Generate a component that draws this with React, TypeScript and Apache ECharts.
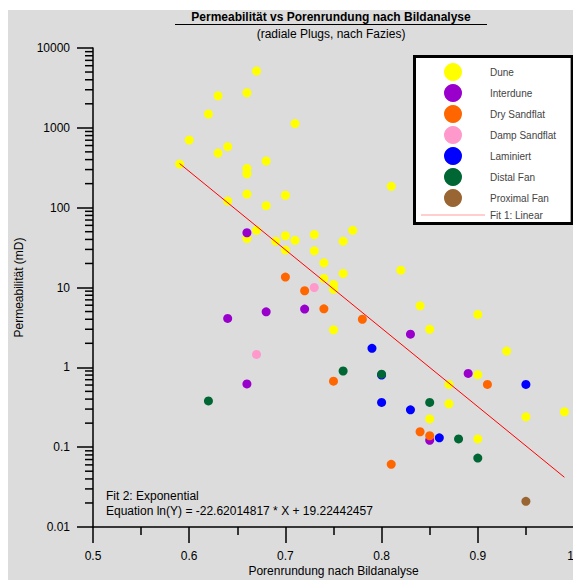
import React, { useEffect, useRef } from "react";
import * as echarts from "echarts";

const FONT = "'Liberation Sans', Arial, sans-serif";

const seriesNames = ["Dune", "Interdune", "Dry Sandflat", "Damp Sandflat", "Laminiert", "Distal Fan", "Proximal Fan"];
const seriesColors = ["#ffff00", "#9900cc", "#ff6600", "#ff99cc", "#0000ff", "#006633", "#996633"];

const dune = [
  [0.59, 352], [0.6, 703], [0.62, 1490], [0.63, 2520], [0.63, 483], [0.64, 580], [0.66, 2750], [0.67, 5150],
  [0.66, 310], [0.66, 266], [0.66, 148], [0.64, 121], [0.67, 52], [0.66, 41], [0.71, 1130], [0.68, 384],
  [0.7, 143], [0.68, 106], [0.81, 185], [0.7, 44.5], [0.71, 39], [0.73, 46], [0.76, 38], [0.77, 52],
  [0.69, 38], [0.7, 29.4], [0.73, 28.8], [0.74, 20.4], [0.76, 15], [0.74, 13], [0.75, 10.9], [0.75, 9.5],
  [0.75, 2.95], [0.82, 16.5], [0.84, 5.9], [0.85, 3.0], [0.9, 4.6], [0.93, 1.6], [0.9, 0.81], [0.87, 0.61],
  [0.87, 0.35], [0.85, 0.226], [0.95, 0.24], [0.99, 0.277], [0.9, 0.127],
];
const interdune = [[0.66, 48.5], [0.64, 4.1], [0.68, 4.96], [0.72, 5.36], [0.66, 0.62], [0.83, 2.6], [0.89, 0.84], [0.85, 0.122]];
const drySandflat = [[0.7, 13.5], [0.72, 9.1], [0.74, 5.4], [0.75, 0.67], [0.78, 4.0], [0.91, 0.61], [0.84, 0.156], [0.85, 0.139], [0.81, 0.061]];
const dampSandflat = [[0.73, 10], [0.67, 1.45]];
const laminiert = [[0.79, 1.73], [0.8, 0.8], [0.8, 0.363], [0.83, 0.294], [0.95, 0.61], [0.86, 0.131]];
const distalFan = [[0.62, 0.38], [0.76, 0.9], [0.8, 0.82], [0.85, 0.363], [0.88, 0.127], [0.9, 0.073]];
const proximalFan = [[0.95, 0.021]];
const allSeriesData = [dune, interdune, drySandflat, dampSandflat, laminiert, distalFan, proximalFan];

const fitName = "Fit 1: Linear";
const fitLine = [[0.59, 357], [0.99, 0.042]];

const yTickLabels = ["0.01", "0.1", "1", "10", "100", "1000", "10000"];
const yMinorTicks = [
  0.02, 0.03, 0.04, 0.05, 0.06, 0.07, 0.08, 0.09,
  0.2, 0.3, 0.4, 0.5, 0.6, 0.7, 0.8, 0.9,
  2, 3, 4, 5, 6, 7, 8, 9,
  20, 30, 40, 50, 60, 70, 80, 90,
  200, 300, 400, 500, 600, 700, 800, 900,
  2000, 3000, 4000, 5000, 6000, 7000, 8000, 9000,
];

const titleText = "Permeabilität vs Porenrundung nach Bildanalyse";
const subTitleText = "(radiale Plugs, nach Fazies)";
const xName = "Porenrundung nach Bildanalyse";
const yName = "Permeabilität (mD)";
const fitText1 = "Fit 2: Exponential";
const fitText2 = "Equation ln(Y) = -22.62014817 * X + 19.22442457";

export default function App() {
  const ref = useRef<HTMLDivElement>(null);
  useEffect(() => {
    if (!ref.current) return;
    const chart = echarts.init(ref.current, null, { renderer: "svg" });
    const scatterSeries = seriesNames.map((name, i) => ({
      name,
      type: "scatter",
      data: allSeriesData[i],
      symbol: "circle",
      symbolSize: 9,
      itemStyle: { color: seriesColors[i], opacity: 1 },
    }));
    chart.setOption({
      animation: false,
      backgroundColor: "#dcdcdc",
      textStyle: { fontFamily: FONT },
      grid: { left: 85, right: -1, top: 38, bottom: 53, containLabel: false, outerBoundsMode: "none" },
      xAxis: {
        type: "value",
        min: 0.5,
        max: 1.0,
        interval: 0.1,
        name: xName,
        nameLocation: "middle",
        nameGap: 38,
        nameMoveOverlap: false,
        nameTextStyle: { fontSize: 12, color: "#000", fontFamily: FONT },
        axisLine: { show: true, onZero: false, lineStyle: { color: "#000", width: 1.5 } },
        axisTick: { show: true, inside: false, length: 16, lineStyle: { color: "#000", width: 1.5 } },
        minorTick: { show: true, splitNumber: 2, length: 8, lineStyle: { color: "#000", width: 1.5 } },
        axisLabel: {
          fontSize: 12,
          color: "#000",
          margin: 23,
          fontFamily: FONT,
          alignMaxLabel: "right",
          formatter: (v: number) => String(Math.round(v * 10) / 10),
        },
        splitLine: { show: false },
      },
      yAxis: {
        type: "log",
        logBase: 10,
        min: 0.01,
        max: 10000,
        name: yName,
        nameLocation: "middle",
        nameGap: 68,
        nameMoveOverlap: false,
        nameTextStyle: { fontSize: 12, color: "#000", fontFamily: FONT },
        axisLine: { show: true, onZero: false, lineStyle: { color: "#000", width: 1.5 } },
        axisTick: { show: true, inside: false, length: 16, lineStyle: { color: "#000", width: 1.5 } },
        axisLabel: {
          fontSize: 12,
          color: "#000",
          margin: 23,
          fontFamily: FONT,
          formatter: (v: number) => yTickLabels[Math.round(Math.log10(v)) + 2] ?? String(v),
        },
        splitLine: { show: false },
      },
      legend: {
        orient: "vertical",
        left: 406.5,
        top: 46.5,
        padding: [6.5, 16, 3.5, 6.5],
        itemWidth: 64,
        itemHeight: 18,
        itemGap: 3,
        backgroundColor: "#ffffff",
        borderColor: "#000000",
        borderWidth: 3,
        textStyle: { fontSize: 10, color: "#444", fontFamily: FONT },
        data: [
          ...seriesNames.map((n) => ({ name: n, icon: "circle" })),
          { name: fitName, icon: "path://M0,0 H64 V1 H0 Z", itemStyle: { color: "#ffa0a0" } },
        ],
      },
      graphic: [
        { type: "text", x: 323, y: 7, style: { text: titleText, font: `bold 12px ${FONT}`, fill: "#000", textAlign: "center", textVerticalAlign: "middle" } },
        { type: "line", shape: { x1: 167, y1: 14.5, x2: 479, y2: 14.5 }, style: { stroke: "#000", lineWidth: 1 } },
        { type: "text", x: 323, y: 24, style: { text: subTitleText, font: `12px ${FONT}`, fill: "#000", textAlign: "center", textVerticalAlign: "middle" } },
        { type: "text", x: 98, y: 486, style: { text: fitText1, font: `12px ${FONT}`, fill: "#000", textAlign: "left", textVerticalAlign: "middle" } },
        { type: "text", x: 98, y: 501, style: { text: fitText2, font: `12px ${FONT}`, fill: "#000", textAlign: "left", textVerticalAlign: "middle" } },
      ],
      series: [
        {
          name: "minorTicksY",
          type: "custom",
          clip: false,
          silent: true,
          data: yMinorTicks.map((v) => [0.5, v]),
          renderItem: (params: any, api: any) => {
            const p = api.coord([api.value(0), api.value(1)]);
            return {
              type: "line",
              shape: { x1: p[0] - 8, y1: p[1], x2: p[0], y2: p[1] },
              style: { stroke: "#000", lineWidth: 1.5 },
            };
          },
        },
        ...scatterSeries,
        {
          name: fitName,
          type: "line",
          data: fitLine,
          symbol: "none",
          showSymbol: false,
          lineStyle: { color: "#ff0000", width: 1 },
          z: 3,
        },
      ],
    });
    return () => chart.dispose();
  }, []);
  return (
    <div
      ref={ref}
      style={{ position: "absolute", left: 8, top: 10, width: 565, height: 570 }}
    />
  );
}
